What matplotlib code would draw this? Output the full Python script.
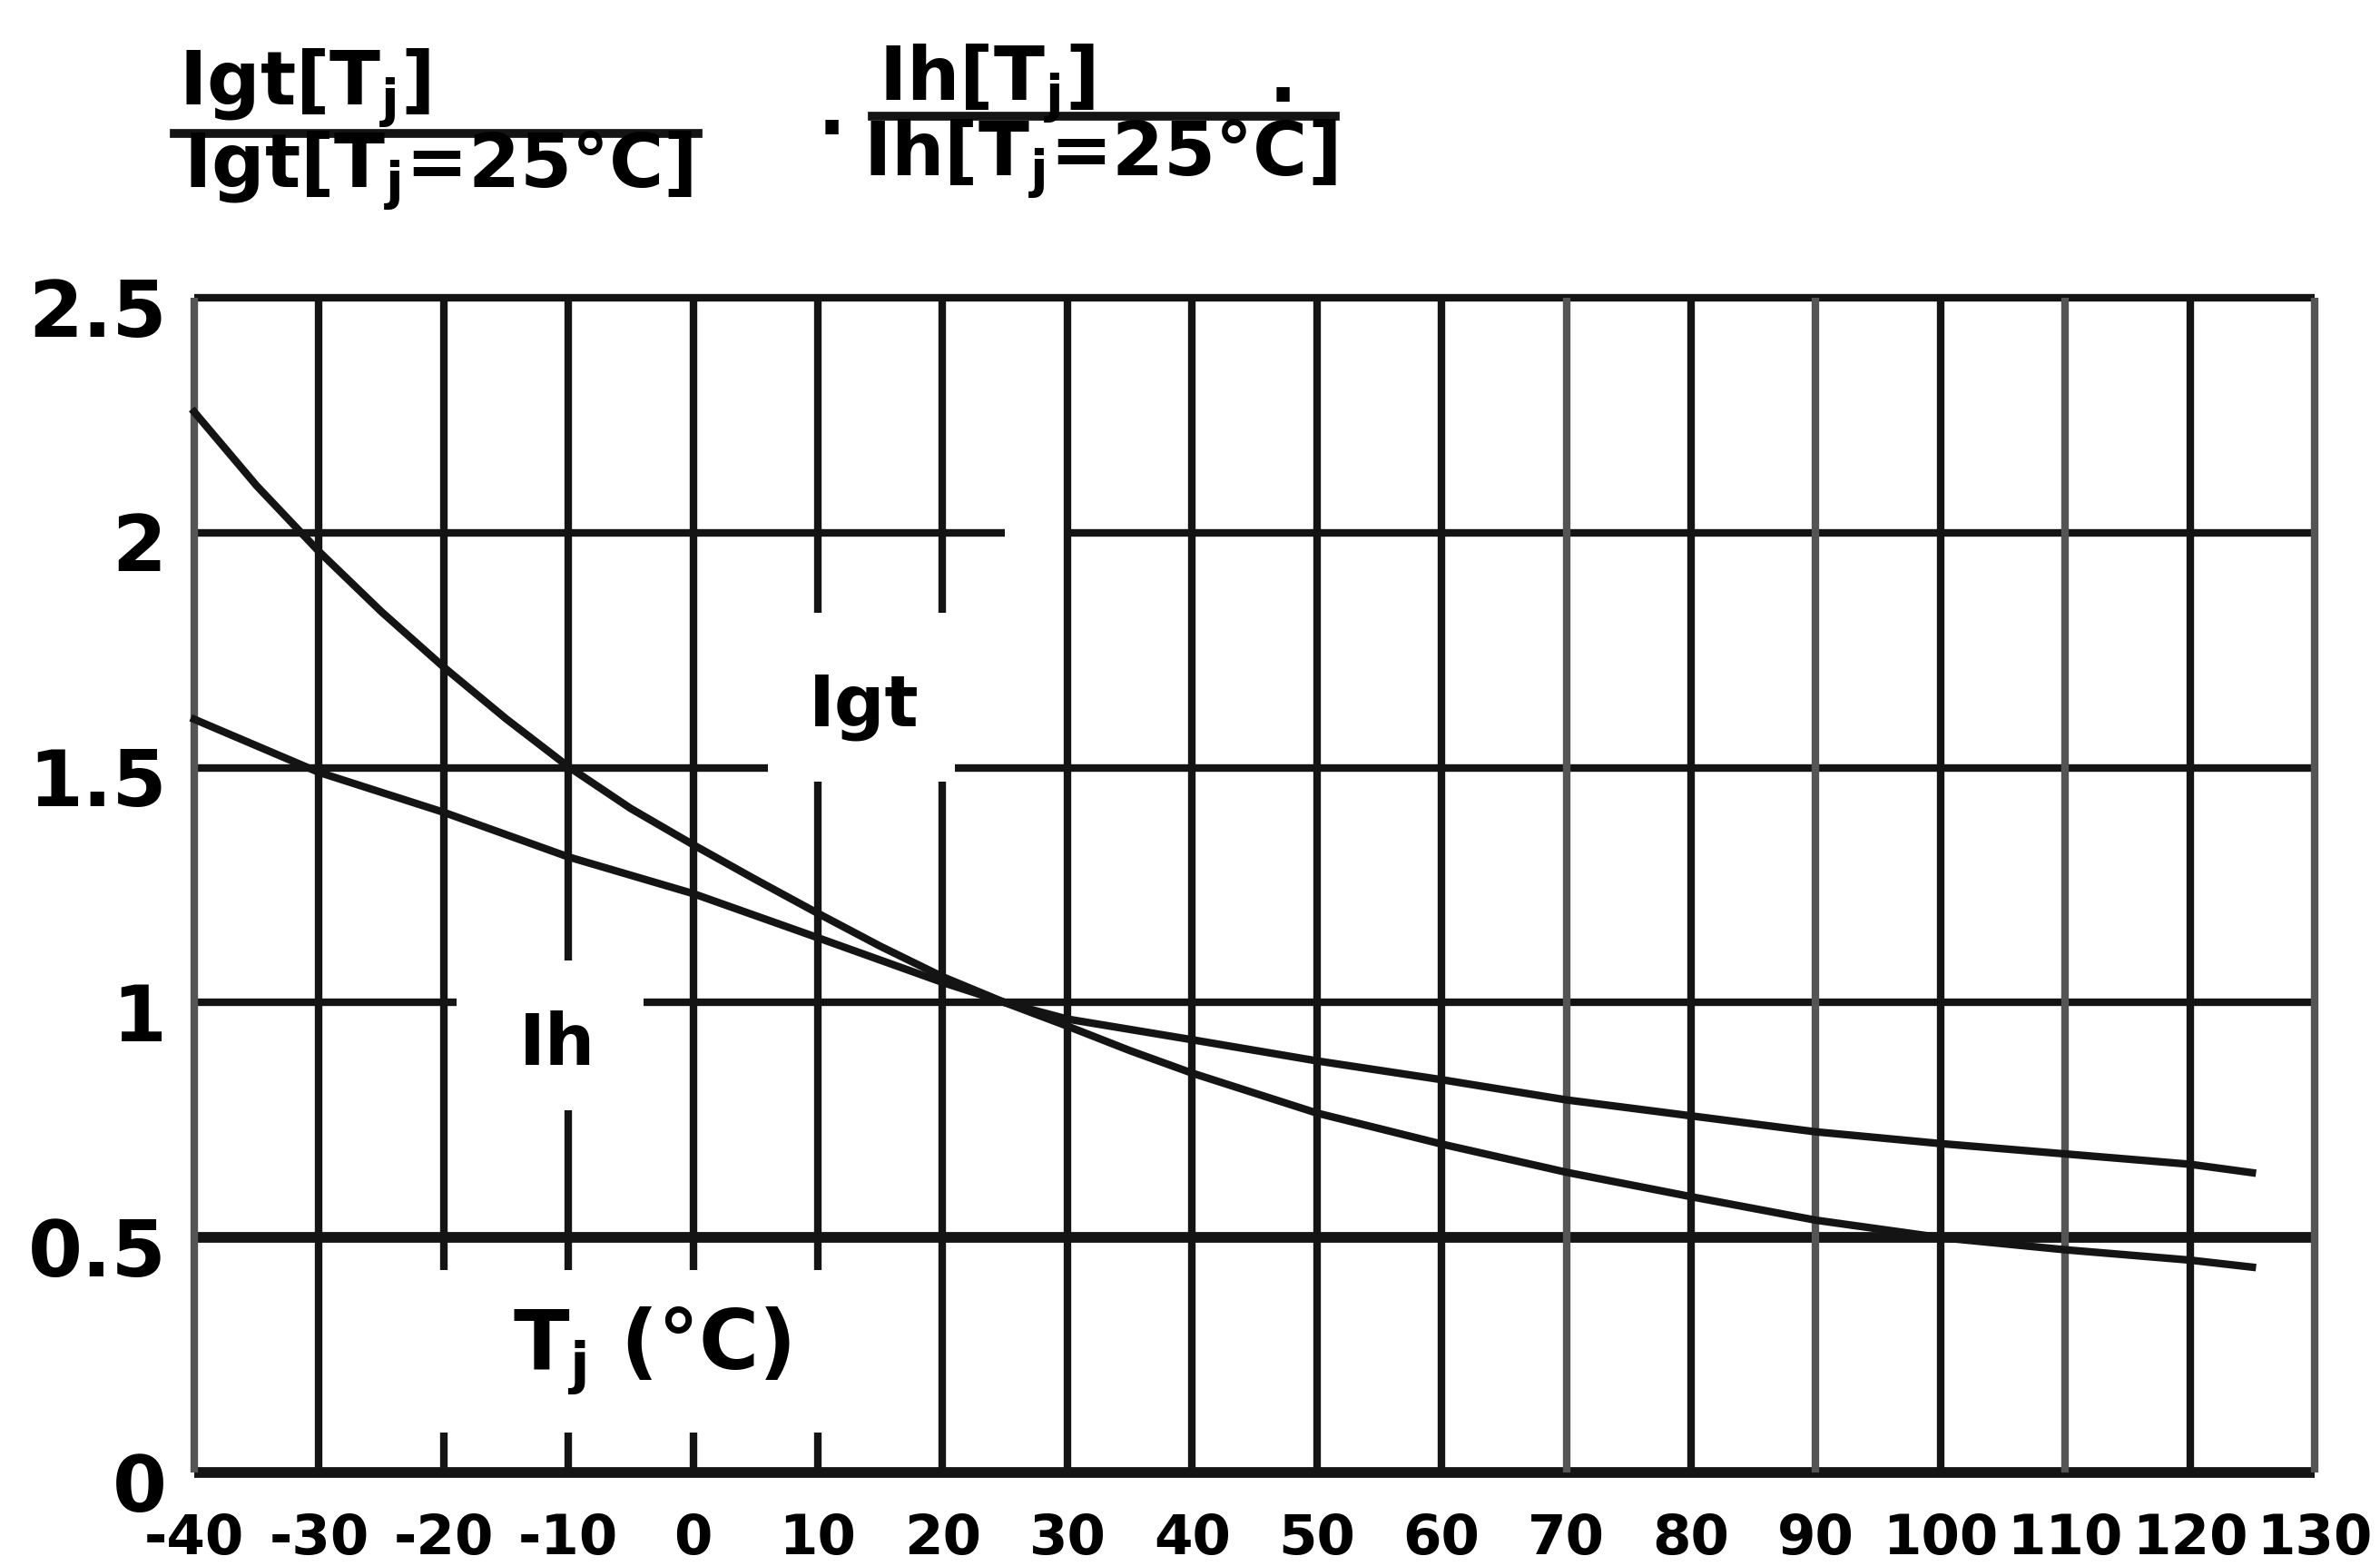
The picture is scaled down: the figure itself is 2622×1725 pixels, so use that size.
import matplotlib.pyplot as plt
import matplotlib.transforms as mtransforms
from matplotlib.lines import Line2D

# junction temperature (deg C) and normalised values
igt_temps = [-40, -35, -30, -25, -20, -15, -10, -5, 0, 5, 10, 15, 20, 25, 30, 35, 40,
             50, 60, 70, 80, 90, 100, 110, 120, 125]
igt = [2.257, 2.10, 1.96, 1.832, 1.714, 1.604, 1.502, 1.413, 1.336, 1.262, 1.19, 1.12, 1.055,
       1.00, 0.95, 0.898, 0.85, 0.765, 0.699, 0.639, 0.587, 0.537, 0.50, 0.474, 0.452, 0.437]
ih_temps = [-40, -30, -20, -10, 0, 10, 20, 25, 30, 40, 50, 60, 70, 80, 90, 100, 110, 120, 125]
ih = [1.603, 1.49, 1.405, 1.31, 1.232, 1.138, 1.043, 1.00, 0.965, 0.921, 0.876, 0.836, 0.793,
      0.759, 0.725, 0.70, 0.678, 0.656, 0.638]

x_ticks = list(range(-40, 131, 10))
x_labels = [str(t) for t in x_ticks]
y_ticks = [0, 0.5, 1, 1.5, 2, 2.5]
y_labels = ["0", "0.5", "1", "1.5", "2", "2.5"]

# grid segments with the gaps left around the labels in the original
h_segments = {
    0: [(-40, 130)],
    0.5: [(-40, 130)],
    1: [(-40, -19), (-4, 130)],
    1.5: [(-40, 6), (21, 130)],
    2: [(-40, 25), (30, 130)],
    2.5: [(-40, 130)],
}
v_gaps = {
    -20: [(0.085, 0.43)],
    -10: [(0.085, 0.43), (0.77, 1.09)],
    0: [(0.085, 0.43)],
    10: [(0.085, 0.43), (1.47, 1.83)],
    20: [(1.47, 1.83)],
}

fig = plt.figure(figsize=(26.22, 17.25), dpi=100)
ax = fig.add_axes([214 / 2622, 1 - 1622 / 1725, 2336 / 2622, 1294 / 1725])
ax.set_xlim(-40, 130)
ax.set_ylim(0, 2.5)
for s in ax.spines.values():
    s.set_visible(False)

ink = "#141414"
grid_lw = 6.0

for y, segs in h_segments.items():
    lw = 8.5 if y in (0, 0.5) else grid_lw
    for a, b in segs:
        ax.plot([a, b], [y, y], color=ink, lw=lw, solid_capstyle="butt", clip_on=False, zorder=1)

for x in x_ticks:
    pieces = []
    start = 0
    for g0, g1 in v_gaps.get(x, []):
        pieces.append((start, g0))
        start = g1
    pieces.append((start, 2.5))
    col = "#555555" if x in (-40, 130, 70, 90, 110) else ink
    for a, b in pieces:
        ax.plot([x, x], [a, b], color=col, lw=grid_lw, solid_capstyle="butt", clip_on=False, zorder=1)

ax.plot(igt_temps, igt, color=ink, lw=6, zorder=3, clip_on=False)
ax.plot(ih_temps, ih, color=ink, lw=6, zorder=3, clip_on=False)

ax.set_xticks(x_ticks)
ax.set_xticklabels(x_labels, fontsize=44, fontweight="bold")
ax.set_yticks(y_ticks)
ax.set_yticklabels(y_labels, fontsize=62, fontweight="bold")
ax.tick_params(axis="x", length=0, pad=32)
ax.tick_params(axis="y", length=0, pad=22)
shift = mtransforms.ScaledTranslation(0, -0.1, fig.dpi_scale_trans)
for lab in ax.get_yticklabels():
    lab.set_transform(lab.get_transform() + shift)

ax.text(13.7, 1.63, "Igt", fontsize=56, fontweight="bold", ha="center", va="center")
ax.text(-10.9, 0.91, "Ih", fontsize=56, fontweight="bold", ha="center", va="center")
ax.text(-3.3, 0.26, r"T$_\mathbf{j}$ (°C)", fontsize=65, fontweight="bold", ha="center", va="center")

# fraction labels at the top
W, H = 2622, 1725
def ftext(x, y, s, size=59):
    fig.text(x / W, 1 - y / H, s, fontsize=size, fontweight="bold", ha="center", va="center")

ftext(336, 97, r"Igt[T$_\mathbf{j}$]")
ftext(483, 188, r"Igt[T$_\mathbf{j}$=25°C]")
fig.add_artist(Line2D([192 / W, 769 / W], [1 - 147 / H] * 2, color=ink, lw=7))

ftext(916, 125, ".")
ftext(1087, 92, r"Ih[T$_\mathbf{j}$]")
ftext(1413, 90, ".")
ftext(1212, 175, r"Ih[T$_\mathbf{j}$=25°C]")
fig.add_artist(Line2D([961 / W, 1471 / W], [1 - 128 / H] * 2, color=ink, lw=7))

fig.savefig("out.png", dpi=100)
